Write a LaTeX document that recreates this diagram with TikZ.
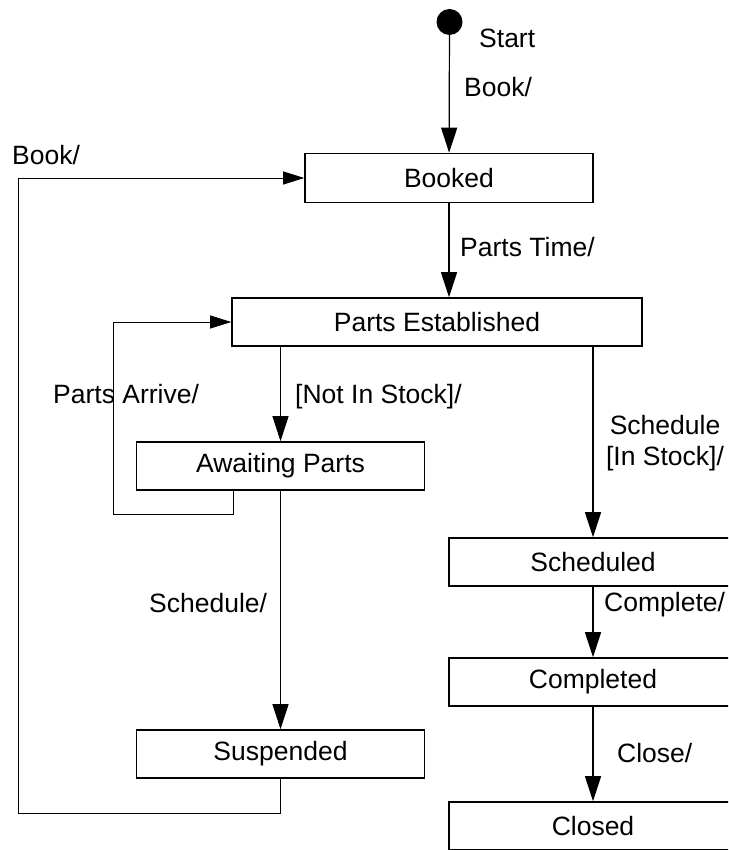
\documentclass[tikz,border=0pt]{standalone}
\usepackage{fontspec}
\setmainfont{Liberation Sans}
\usetikzlibrary{arrows.meta}

\begin{document}
\begin{tikzpicture}[x=1pt,y=1pt,
  every node/.style={font=\fontsize{26.5}{31}\selectfont},
  state/.style={draw, line width=1.6pt, minimum height=48pt, inner sep=0pt},
  wide/.style={minimum width=288pt},
  tlabel/.style={inner sep=0pt, anchor=base west},
  trans/.style={line width=1.2pt, -{Triangle[length=25pt,width=16pt]}},
  back/.style={line width=0.8pt, -{Triangle[length=21pt,width=13pt]}}]

  \useasboundingbox (0,0) rectangle (728,-850);
  \clip (0,0) rectangle (728,-850);

  % initial pseudo-state
  \node[circle, fill=black, minimum size=26pt, inner sep=0pt] (start) at (449.5,-22) {};

  % states
  \node[state, wide, minimum height=49pt] (booked) at (449,-178) {Booked};
  \node[state, minimum width=410pt] (pe) at (437,-322) {Parts Established};
  \node[state, wide] (await) at (280.5,-466) {Awaiting Parts};
  \node[state, wide] (susp) at (280.5,-754) {Suspended};
  \node[state, wide] (sched) at (593,-562) {Scheduled};
  \node[state, wide] (compl) at (593,-682) {Completed};
  \node[state, wide] (closed) at (593,-826) {Closed};

  % transition labels (placed by baseline)
  \node[tlabel] (lstart) at (479,-48) {Start};
  \node[tlabel] (lbook) at (464,-97) {Book/};
  \node[tlabel] (lbookback) at (12,-165) {Book/};
  \node[tlabel] (lparts) at (460,-256) {Parts Time/};
  \node[tlabel] (larrive) at (53,-403) {Parts Arrive/};
  \node[tlabel] (lnot) at (295,-403) {[Not In Stock]/};
  \node[inner sep=0pt, align=center] (lin) at (665,-443.5) {Schedule\\{}[In Stock]/};
  \node[tlabel] (lsched) at (149,-612) {Schedule/};
  \node[tlabel] (lcompl) at (604,-611.5) {Complete/};
  \node[tlabel] (lclose) at (617,-762) {Close/};

  % main transitions
  \draw[trans] (start) -- (booked);
  \draw[trans] (booked) -- (pe.north -| booked.south);
  \draw[trans] (pe.south -| await.north) -- (await);
  \draw[trans] (pe.south -| sched.north) -- (sched);
  \draw[trans] (await) -- (susp);
  \draw[trans] (sched) -- (compl);
  \draw[trans] (compl) -- (closed);

  % return loops
  \coordinate (arrivecorner) at (113,-514);
  \coordinate (bookcorner) at (18,-813);
  \draw[back] ([xshift=-47.5pt]await.south) |- (arrivecorner) |- (pe.west);
  \draw[back] (susp.south) |- (bookcorner) |- (booked.west);
\end{tikzpicture}
\end{document}
